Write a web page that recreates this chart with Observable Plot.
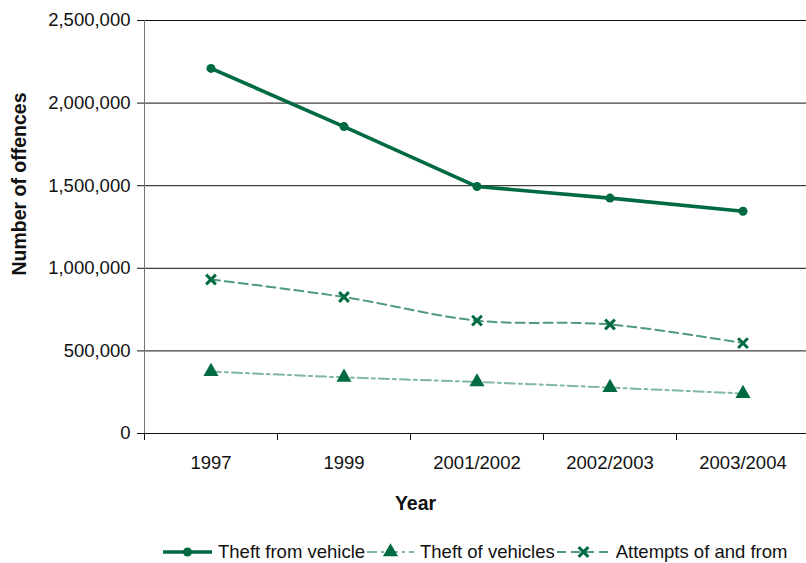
<!DOCTYPE html>
<html>
<head>
<meta charset="utf-8">
<script src="https://cdn.jsdelivr.net/npm/d3@7"></script>
<script src="https://cdn.jsdelivr.net/npm/@observablehq/plot@0.6"></script>
<style>
  body { margin: 0; background: #fff; font-family: "Liberation Sans", Arial, sans-serif; }
  #wrap { position: relative; width: 806px; height: 563px; }
  #legend { position: absolute; left: 163px; top: 540px; display: flex; align-items: center; font-size: 18.5px; color: #111; white-space: nowrap; }
  #legend .item { display: flex; align-items: center; }
  #legend svg { display: block; }
  #legend span { margin-left: 6px; margin-right: 2px; }
  #ylabel { position: absolute; left: -91px; top: 172px; width: 220px; height: 24px; line-height: 24px;
            text-align: center; font-weight: bold; font-size: 19.5px; color: #111;
            transform: rotate(-90deg); transform-origin: 50% 50%; white-space: nowrap; }
</style>
</head>
<body>
<div id="wrap"><div id="ylabel">Number of offences</div><div id="legend"></div></div>
<script>
// Recorded vehicle crime, offences per year
const years = ["1997", "1999", "2001/2002", "2002/2003", "2003/2004"];
const theftFromVehicle = [2210000, 1858000, 1495000, 1425000, 1345000];
const theftOfVehicles = [375000, 340000, 312000, 278000, 242000];
const attemptsOfAndFrom = [932000, 826000, 683000, 660000, 547000];
const yTicks = [0, 500000, 1000000, 1500000, 2000000, 2500000];

const dark = "#006a40";
const seriesStyles = [
  {name: "Theft from vehicle", values: theftFromVehicle, stroke: dark, width: 3.6, dash: null, curve: "linear", symbol: "circle", r: 4.5, markerStroke: null},
  {name: "Theft of vehicles", values: theftOfVehicles, stroke: "#7fb79f", width: 2, dash: "10,4,3,4", curve: "catmull-rom", symbol: "triangle", r: 5.6, markerStroke: null},
  {name: "Attempts of and from", values: attemptsOfAndFrom, stroke: "#4e9a7b", width: 2, dash: "9,5", curve: "catmull-rom", symbol: "times", r: 4.5, markerStroke: dark}
];

const rows = seriesStyles.flatMap(s => s.values.map((v, i) => ({series: s.name, i, year: years[i], value: v})));

const seriesMarks = seriesStyles.flatMap(s => {
  const data = rows.filter(d => d.series === s.name);
  const dot = s.markerStroke
    ? Plot.dot(data, {x: "i", y: "value", symbol: () => s.symbol, r: s.r, stroke: s.markerStroke, strokeWidth: 3})
    : Plot.dot(data, {x: "i", y: "value", symbol: () => s.symbol, r: s.r, fill: dark});
  return [
    Plot.line(data, {x: "i", y: "value", stroke: s.stroke, strokeWidth: s.width, strokeDasharray: s.dash, curve: s.curve}),
    dot
  ];
});

const chart = Plot.plot({
  width: 806,
  height: 563,
  marginLeft: 144,
  marginRight: 0,
  marginTop: 20,
  marginBottom: 130,
  style: {fontFamily: "'Liberation Sans', Arial, sans-serif", fontSize: "18.5px", color: "#111", background: "#fff"},
  x: {type: "linear", domain: [-0.5, 4.5], range: [144, 809]},
  y: {domain: [0, 2500000], range: [433, 20]},
  symbol: {type: "identity"},
  marks: [
    Plot.ruleY(yTicks.slice(1), {stroke: "#111", strokeWidth: 1}),
    Plot.ruleX([-0.5], {stroke: "#777", strokeWidth: 1}),
    Plot.ruleY([0], {stroke: "#111", strokeWidth: 1}),
    Plot.axisY({ticks: yTicks, tickSize: 7, tickPadding: 7, tickFormat: d3.format(","), label: null, fontSize: 18.5}),
    Plot.axisX({ticks: [-0.5, 0.5, 1.5, 2.5, 3.5], tickSize: 7, tickFormat: () => "", label: null}),
    Plot.axisX({ticks: [0, 1, 2, 3, 4], tickSize: 0, tickPadding: 22, tickFormat: i => years[i], label: null, fontSize: 18.5}),
    ...seriesMarks,
    Plot.text(["Year"], {frameAnchor: "bottom", text: d => d, dx: -60, dy: 76, fontWeight: "bold", fontSize: 19.5})
  ]
});
document.getElementById("wrap").prepend(chart);

// Legend: line sample with marker, followed by the series name
const legend = d3.select("#legend");
seriesStyles.forEach((s, k) => {
  const w = [49, 47, 53][k];
  const item = legend.append("div").attr("class", "item");
  const svg = item.append("svg").attr("width", w).attr("height", 24);
  svg.append("line").attr("x1", 0).attr("x2", w).attr("y1", 12).attr("y2", 12)
    .attr("stroke", s.stroke).attr("stroke-width", s.width)
    .attr("stroke-dasharray", s.dash);
  const sym = {circle: d3.symbolCircle, triangle: d3.symbolTriangle, times: d3.symbolTimes}[s.symbol];
  const path = svg.append("path")
    .attr("transform", `translate(${w / 2},12)`)
    .attr("d", d3.symbol(sym, Math.PI * s.r * s.r)());
  if (s.markerStroke) path.attr("fill", "none").attr("stroke", s.markerStroke).attr("stroke-width", 3);
  else path.attr("fill", dark);
  item.append("span").text(s.name);
});
</script>
</body>
</html>
